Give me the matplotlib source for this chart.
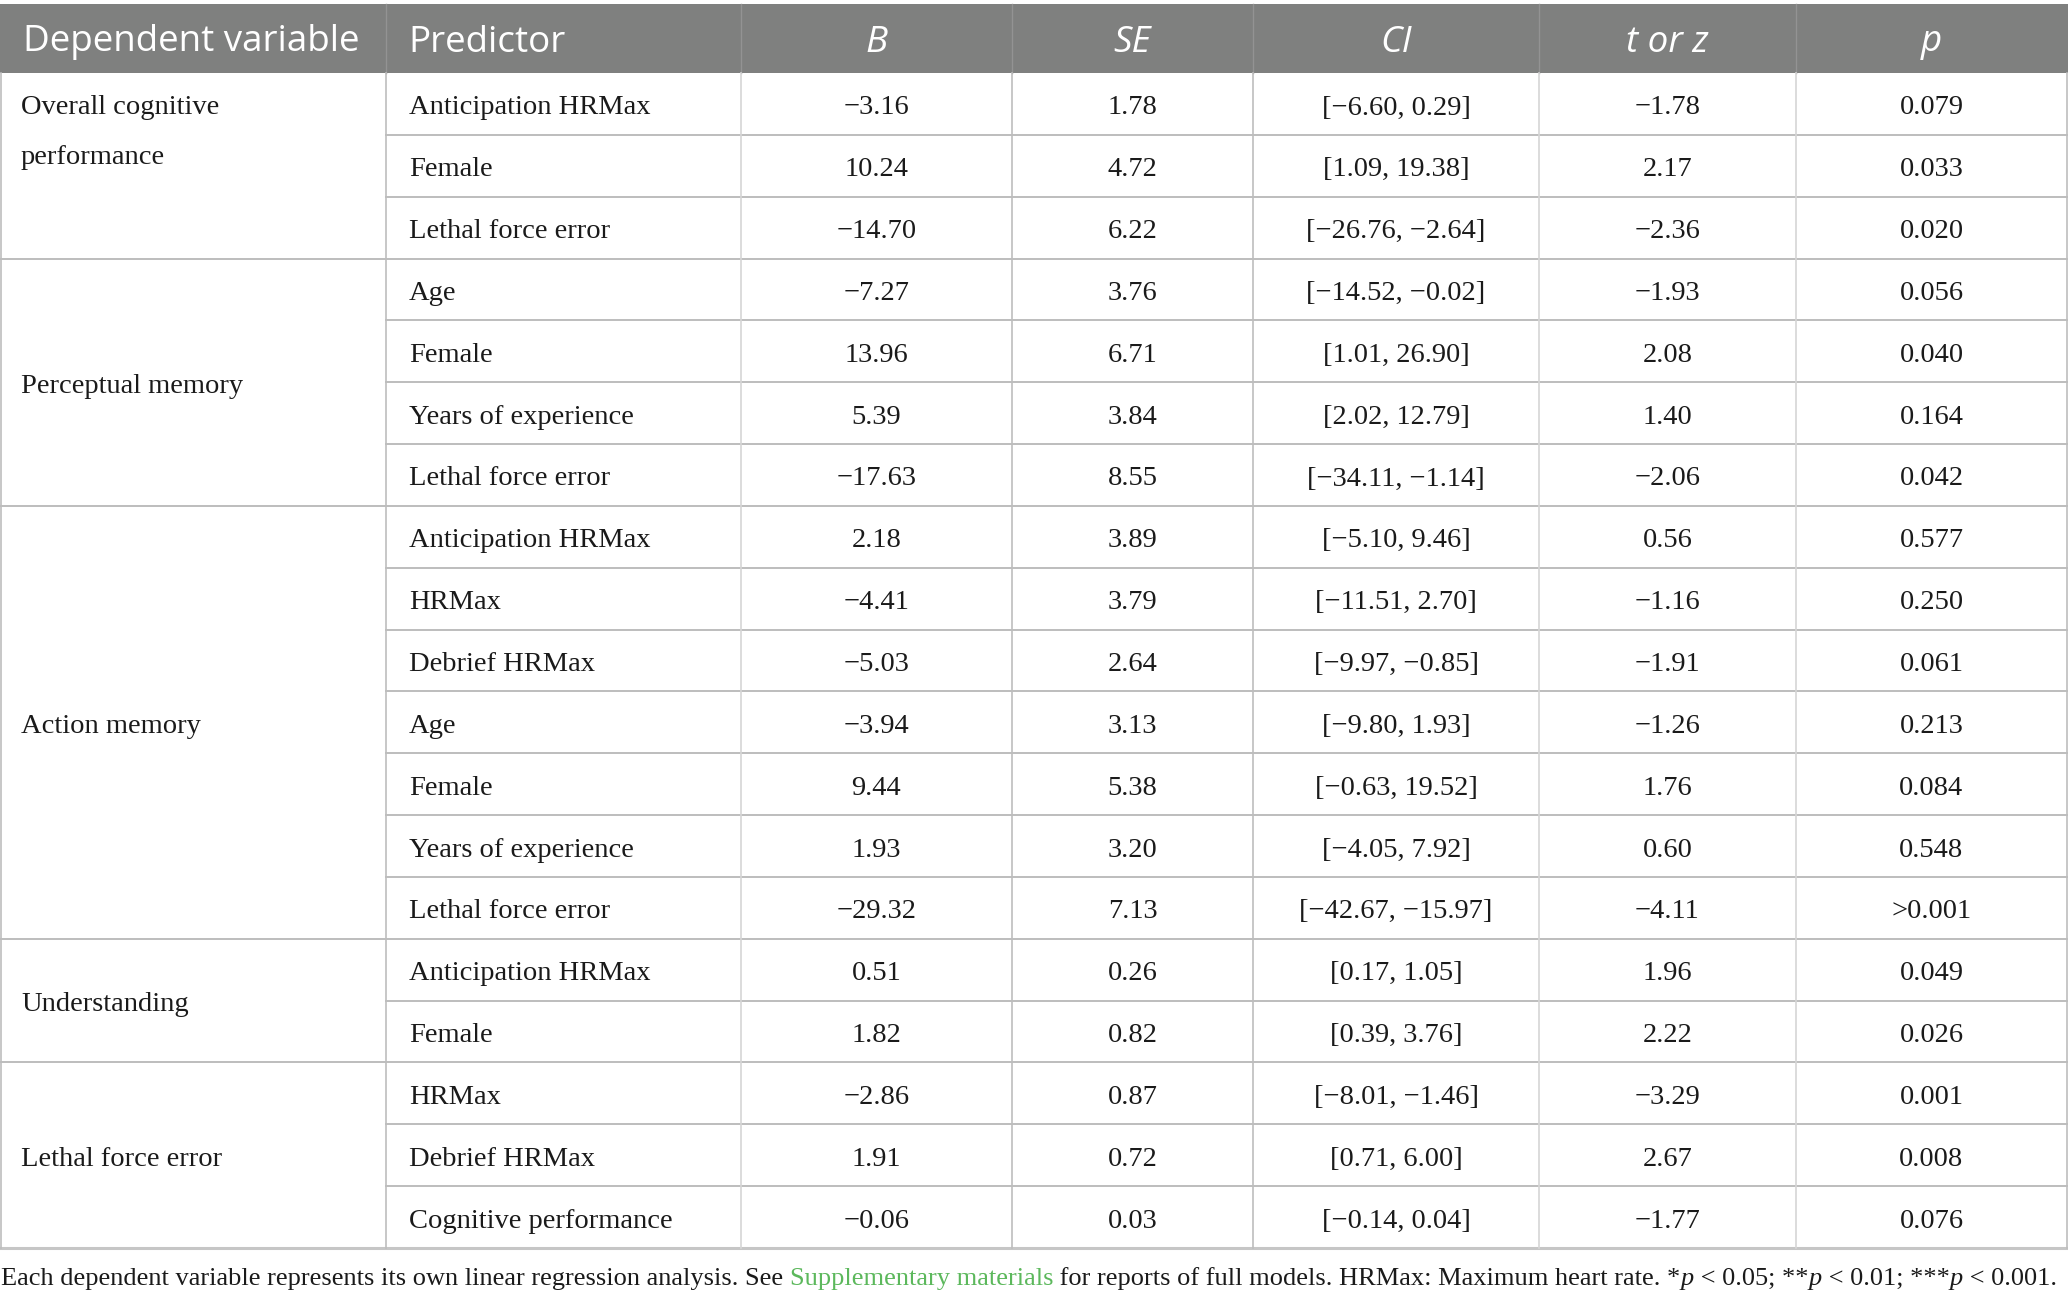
import matplotlib
matplotlib.use("Agg")
from matplotlib import pyplot as plt
from matplotlib.patches import Rectangle

# table content
groups = ["Overall cognitive\nperformance", "Perceptual memory", "Action memory",
          "Understanding", "Lethal force error"]
group_sizes = [3, 4, 7, 2, 3]

predictors = ["Anticipation HRMax", "Female", "Lethal force error",
              "Age", "Female", "Years of experience", "Lethal force error",
              "Anticipation HRMax", "HRMax", "Debrief HRMax", "Age", "Female",
              "Years of experience", "Lethal force error",
              "Anticipation HRMax", "Female",
              "HRMax", "Debrief HRMax", "Cognitive performance"]
b_vals = ["−3.16", "10.24", "−14.70", "−7.27", "13.96", "5.39", "−17.63",
          "2.18", "−4.41", "−5.03", "−3.94", "9.44", "1.93", "−29.32",
          "0.51", "1.82", "−2.86", "1.91", "−0.06"]
se_vals = ["1.78", "4.72", "6.22", "3.76", "6.71", "3.84", "8.55",
           "3.89", "3.79", "2.64", "3.13", "5.38", "3.20", "7.13",
           "0.26", "0.82", "0.87", "0.72", "0.03"]
ci_vals = ["[−6.60, 0.29]", "[1.09, 19.38]", "[−26.76, −2.64]",
           "[−14.52, −0.02]", "[1.01, 26.90]", "[2.02, 12.79]", "[−34.11, −1.14]",
           "[−5.10, 9.46]", "[−11.51, 2.70]", "[−9.97, −0.85]", "[−9.80, 1.93]",
           "[−0.63, 19.52]", "[−4.05, 7.92]", "[−42.67, −15.97]",
           "[0.17, 1.05]", "[0.39, 3.76]",
           "[−8.01, −1.46]", "[0.71, 6.00]", "[−0.14, 0.04]"]
t_vals = ["−1.78", "2.17", "−2.36", "−1.93", "2.08", "1.40", "−2.06",
          "0.56", "−1.16", "−1.91", "−1.26", "1.76", "0.60", "−4.11",
          "1.96", "2.22", "−3.29", "2.67", "−1.77"]
p_vals = ["0.079", "0.033", "0.020", "0.056", "0.040", "0.164", "0.042",
          "0.577", "0.250", "0.061", "0.213", "0.084", "0.548", ">0.001",
          "0.049", "0.026", "0.001", "0.008", "0.076"]

headers = ["Dependent variable", "Predictor", "B", "SE", "CI", "t or z", "p"]
header_italic = [False, False, True, True, True, True, True]

W, H = 2068, 1302
col_edges = [1, 386, 741, 1012, 1253, 1539, 1796, 2067]
head_top, head_bot = 4, 73
table_bot = 1248
n_rows = len(predictors)
row_h = (table_bot - head_bot) / n_rows

serif = ["Liberation Serif", "DejaVu Serif"]
sans = ["Open Sans", "DejaVu Sans"]
body_size = 20.5
head_size = 26.5
ink = "#1a1a1a"
line_col = "#bdbdbd"

fig = plt.figure(figsize=(W / 100, H / 100), dpi=100)
ax = fig.add_axes([0, 0, 1, 1])
ax.set_xlim(0, W)
ax.set_ylim(H, 0)
ax.axis("off")

# header
ax.add_patch(Rectangle((0, head_top), W, head_bot - head_top, facecolor="#7f807f",
                       edgecolor="none", zorder=1))
head_mid = (head_top + head_bot) / 2 + 4
for i, h in enumerate(headers):
    if i < 2:
        x, ha = col_edges[i] + 22, "left"
    else:
        x, ha = (col_edges[i] + col_edges[i + 1]) / 2, "center"
    ax.text(x, head_mid, h, ha=ha, va="center", color="white", family=sans,
            fontsize=head_size, style="italic" if header_italic[i] else "normal", zorder=3)
for x in col_edges[1:-1]:
    ax.plot([x, x], [head_top, head_bot], color="#939393", lw=1.0, zorder=2)

# body rows
cols = [b_vals, se_vals, ci_vals, t_vals, p_vals]
shift = 4
for r in range(n_rows):
    yc = head_bot + (r + 0.5) * row_h + shift
    ax.text(col_edges[1] + 23, yc, predictors[r], ha="left", va="center",
            family=serif, fontsize=body_size, color=ink)
    for c, vals in enumerate(cols):
        xc = (col_edges[c + 2] + col_edges[c + 3]) / 2
        ax.text(xc, yc, vals[r], ha="center", va="center",
                family=serif, fontsize=body_size, color=ink)

# group labels and horizontal rules
group_ends = []
start = 0
for g, n in zip(groups, group_sizes):
    top = head_bot + start * row_h
    bot = head_bot + (start + n) * row_h
    if "\n" in g:
        for k, ln in enumerate(g.split("\n")):
            ax.text(col_edges[0] + 20, top + 0.5 * row_h + k * 50 + shift, ln, ha="left",
                    va="center", family=serif, fontsize=body_size, color=ink)
    else:
        ax.text(col_edges[0] + 20, (top + bot) / 2 + shift, g, ha="left", va="center",
                family=serif, fontsize=body_size, color=ink)
    for k in range(1, n):
        y = head_bot + (start + k) * row_h
        ax.plot([col_edges[1], col_edges[-1]], [y, y], color=line_col, lw=1.4)
    start += n
    group_ends.append(bot)

for y in group_ends[:-1]:
    ax.plot([0, W], [y, y], color=line_col, lw=1.4)
ax.plot([0, W], [table_bot, table_bot], color="#c6c6c6", lw=2.2)

# vertical rules
for i, x in enumerate(col_edges):
    c = line_col if i in (0, 1, 3, 4, 7) else "#d6d6d6"
    ax.plot([x, x], [head_bot, table_bot], color=c, lw=1.2)

# footnote with mixed styles
foot = [("Each dependent variable represents its own linear regression analysis. See ", ink, "normal"),
        ("Supplementary materials", "#5cb85c", "normal"),
        (" for reports of full models. HRMax: Maximum heart rate. *", ink, "normal"),
        ("p", ink, "italic"),
        (" < 0.05; **", ink, "normal"),
        ("p", ink, "italic"),
        (" < 0.01; ***", ink, "normal"),
        ("p", ink, "italic"),
        (" < 0.001.", ink, "normal")]
renderer = fig.canvas.get_renderer()
foot_y = 1279


def draw_foot(size):
    x = 1
    arts = []
    for txt, col, st in foot:
        t = ax.text(x, foot_y, txt, ha="left", va="center", family=serif,
                    fontsize=size, color=col, style=st)
        x += t.get_window_extent(renderer=renderer).width
        arts.append(t)
    return arts, x


arts, end = draw_foot(20)
for a in arts:
    a.remove()
draw_foot(20 * 2058 / end)

fig.savefig("out.png", dpi=100)
